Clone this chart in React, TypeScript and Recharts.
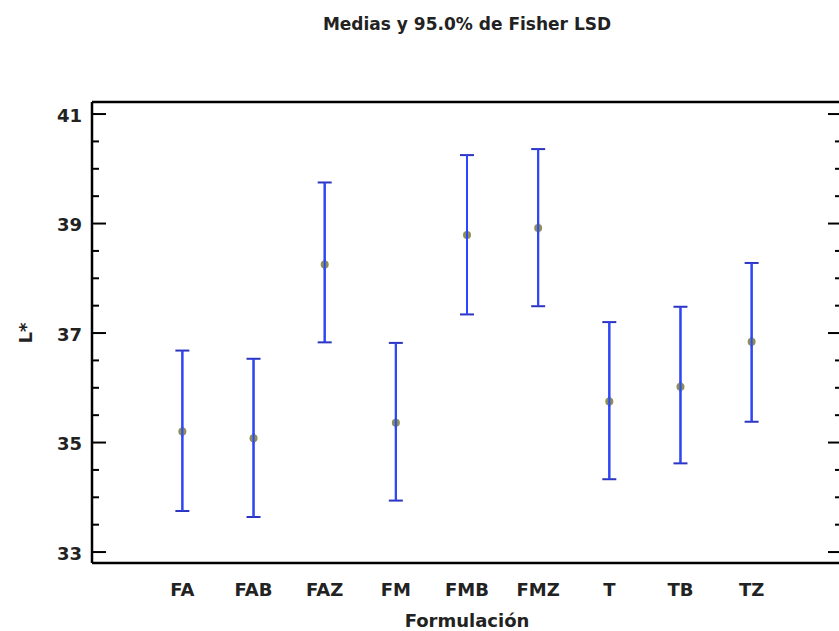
import { ComposedChart, ErrorBar, Label, Scatter, XAxis, YAxis } from "recharts";

const categories = ["FA", "FAB", "FAZ", "FM", "FMB", "FMZ", "T", "TB", "TZ"];
const means = [35.2, 35.08, 38.25, 35.36, 38.79, 38.92, 35.75, 36.02, 36.84];
const lowerLimits = [33.75, 33.64, 36.83, 33.94, 37.34, 37.49, 34.33, 34.62, 35.38];
const upperLimits = [36.68, 36.53, 39.75, 36.82, 40.25, 40.36, 37.2, 37.48, 38.28];

const yMajorTicks = [33, 35, 37, 39, 41];
const yAllTicks = [33, 33.5, 34, 34.5, 35, 35.5, 36, 36.5, 37, 37.5, 38, 38.5, 39, 39.5, 40, 40.5, 41];
const xTicks = [1, 2, 3, 4, 5, 6, 7, 8, 9];

const FONT = "'DejaVu Sans', Verdana, sans-serif";
const BLUE = "#2a46ff";
const CAP = "#2c34c0";

const data = categories.map((name, i) => ({
  x: i + 1,
  name,
  mean: means[i],
  err: [means[i] - lowerLimits[i], upperLimits[i] - means[i]]
}));

function LeftTick({ x, y, payload }: any) {
  const major = yMajorTicks.includes(payload.value);
  return (
    <g>
      <line x1={x} x2={x + (major ? 14 : 7)} y1={y} y2={y} stroke="#000" strokeWidth={2} />
      {major ? (
        <text x={x - 10} y={y} dy="0.42em" textAnchor="end" fontFamily={FONT} fontWeight="bold" fontSize={18} fill="#222">
          {payload.value}
        </text>
      ) : null}
    </g>
  );
}

function RightTick({ x, y, payload }: any) {
  const major = yMajorTicks.includes(payload.value);
  return <line x1={x} x2={x - (major ? 14 : 7)} y1={y} y2={y} stroke="#000" strokeWidth={2} />;
}

// mean marker: olive dot with the blue interval line showing through it
function Dot({ cx, cy }: any) {
  if (cx == null || cy == null) return null;
  return (
    <g>
      <circle cx={cx} cy={cy} r={4} fill="#8f8f55" />
      <line x1={cx} x2={cx} y1={cy - 5} y2={cy + 5} stroke={BLUE} strokeWidth={2} />
    </g>
  );
}

export default function App() {
  return (
    <div style={{ position: "absolute", left: 0, top: 0, width: 839, height: 631, overflow: "hidden", background: "#fff" }}>
      <ComposedChart width={850} height={631} data={data} margin={{ top: 0, right: 0, bottom: 0, left: 0 }}>
        <XAxis
          xAxisId="top"
          orientation="top"
          type="number"
          dataKey="x"
          domain={[-0.27, 10.27]}
          allowDataOverflow
          height={102}
          tick={false}
          tickLine={false}
          axisLine={{ stroke: "#000", strokeWidth: 2.5 }}
        >
          <Label
            content={() => (
              <text x={467} y={30} textAnchor="middle" fontFamily={FONT} fontWeight="bold" fontSize={17} fill="#222">
                Medias y 95.0% de Fisher LSD
              </text>
            )}
          />
        </XAxis>
        <XAxis
          type="number"
          dataKey="x"
          domain={[-0.27, 10.27]}
          allowDataOverflow
          ticks={xTicks}
          tickFormatter={(v: number) => categories[v - 1]}
          height={68}
          tickSize={0}
          tickMargin={20}
          tick={{ fontFamily: FONT, fontWeight: "bold", fontSize: 18, fill: "#222" }}
          axisLine={{ stroke: "#000", strokeWidth: 2.5 }}
        >
          <Label
            content={() => (
              <text x={467} y={627} textAnchor="middle" fontFamily={FONT} fontWeight="bold" fontSize={18} fill="#222">
                Formulación
              </text>
            )}
          />
        </XAxis>
        <YAxis
          type="number"
          dataKey="mean"
          domain={[32.8, 41.22]}
          allowDataOverflow
          ticks={yAllTicks}
          interval={0}
          width={92}
          tickSize={0}
          tickMargin={0}
          tick={<LeftTick />}
          axisLine={{ stroke: "#000", strokeWidth: 2.5 }}
        >
          <Label
            content={() => (
              <text
                x={32}
                y={333}
                transform="rotate(-90 32 333)"
                textAnchor="middle"
                fontFamily={FONT}
                fontWeight="bold"
                fontSize={18}
                fill="#222"
              >
                L*
              </text>
            )}
          />
        </YAxis>
        <YAxis
          yAxisId="right"
          orientation="right"
          type="number"
          dataKey="mean"
          domain={[32.8, 41.22]}
          allowDataOverflow
          ticks={yAllTicks}
          interval={0}
          width={8}
          tickSize={0}
          tickMargin={0}
          tick={<RightTick />}
          axisLine={{ stroke: "#000", strokeWidth: 2.5 }}
        />
        <Scatter dataKey="mean" shape={() => <g />} isAnimationActive={false}>
          <ErrorBar dataKey="err" direction="y" width={7} stroke={CAP} strokeWidth={2} />
          <ErrorBar dataKey="err" direction="y" width={0} stroke={BLUE} strokeWidth={2} />
        </Scatter>
        <Scatter dataKey="mean" fill="#8f8f55" shape={<Dot />} isAnimationActive={false} />
      </ComposedChart>
    </div>
  );
}
